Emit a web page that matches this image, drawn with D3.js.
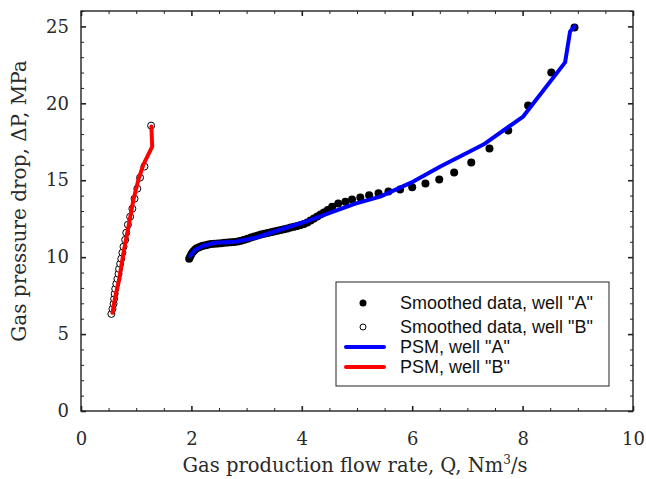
<!DOCTYPE html>
<html>
<head>
<meta charset="utf-8">
<script src="https://cdn.jsdelivr.net/npm/d3@7"></script>
<style>
  body { margin: 0; background: #fff; }
  .tick text { font-family: "DejaVu Serif", serif; font-size: 18px; fill: #2a2a2a; }
</style>
</head>
<body>
<div id="chart"></div>
<script>
// smoothed data, well "A" (filled dots)
const qA = [1.96, 1.98, 2.00, 2.03, 2.06, 2.09, 2.13, 2.17, 2.21, 2.26, 2.31, 2.36, 2.42, 2.48, 2.54, 2.60, 2.66, 2.72, 2.78, 2.84, 2.90, 2.96, 3.02, 3.08, 3.14, 3.20, 3.26, 3.32, 3.38, 3.44, 3.50, 3.56, 3.62, 3.68, 3.74, 3.80, 3.86, 3.92, 3.98, 4.04, 4.10, 4.16, 4.22, 4.28, 4.34, 4.40, 4.47, 4.55, 4.66, 4.79, 4.91, 5.06, 5.22, 5.39, 5.57, 5.78, 6.00, 6.24, 6.49, 6.76, 7.07, 7.40, 7.74, 8.10, 8.52, 8.94];
const dpA = [9.90, 10.05, 10.20, 10.35, 10.47, 10.56, 10.63, 10.69, 10.74, 10.78, 10.82, 10.85, 10.87, 10.89, 10.91, 10.93, 10.95, 10.97, 10.99, 11.02, 11.07, 11.13, 11.20, 11.28, 11.35, 11.41, 11.47, 11.52, 11.57, 11.62, 11.67, 11.72, 11.77, 11.82, 11.87, 11.92, 11.97, 12.03, 12.09, 12.16, 12.26, 12.38, 12.51, 12.64, 12.77, 12.90, 13.07, 13.28, 13.48, 13.60, 13.74, 13.87, 14.03, 14.16, 14.26, 14.39, 14.55, 14.78, 15.04, 15.50, 16.15, 17.06, 18.23, 19.86, 22.00, 24.93];

// smoothed data, well "B" (open circles)
const qB = [0.55, 0.57, 0.59, 0.60, 0.61, 0.62, 0.64, 0.66, 0.68, 0.69, 0.71, 0.73, 0.75, 0.77, 0.80, 0.82, 0.85, 0.89, 0.93, 0.97, 1.02, 1.07, 1.15, 1.27];
const dpB = [6.31, 6.64, 6.97, 7.29, 7.62, 7.94, 8.27, 8.59, 8.92, 9.24, 9.57, 9.90, 10.29, 10.68, 11.13, 11.59, 12.11, 12.63, 13.15, 13.80, 14.45, 15.17, 15.89, 18.55];

// PSM model, well "A"
const qPsmA = [1.98, 2.07, 2.22, 2.43, 2.80, 3.16, 3.61, 4.06, 4.52, 4.97, 5.42, 5.78, 6.02, 6.51, 7.29, 8.01, 8.77, 8.86, 8.94];
const dpPsmA = [10.09, 10.48, 10.74, 10.94, 11.00, 11.26, 11.78, 12.30, 12.89, 13.48, 13.93, 14.52, 14.91, 15.89, 17.32, 19.14, 22.66, 24.67, 25.00];

// PSM model, well "B"
const qPsmB = [0.57, 0.62, 0.69, 0.77, 0.86, 0.95, 1.04, 1.13, 1.29, 1.275];
const dpPsmB = [6.38, 7.42, 8.53, 10.29, 11.98, 13.74, 15.04, 16.02, 17.19, 18.49];

const xMajor = [0, 2, 4, 6, 8, 10];
const yMajor = [0, 5, 10, 15, 20, 25];

const legendItems = [
  {label: 'Smoothed data, well "A"', kind: "dot"},
  {label: 'Smoothed data, well "B"', kind: "circle"},
  {label: 'PSM, well "A"', kind: "line", color: "#0000ff"},
  {label: 'PSM, well "B"', kind: "line", color: "#ff0000"}
];

const margin = {top: 11, right: 13, bottom: 68, left: 81},
    width = 646 - margin.left - margin.right,
    height = 479 - margin.top - margin.bottom;

const svg = d3.select("#chart")
    .append("svg")
    .attr("width", width + margin.left + margin.right)
    .attr("height", height + margin.top + margin.bottom)
    .append("g")
    .attr("transform", `translate(${margin.left}, ${margin.top})`);

const x = d3.scaleLinear().domain([0, 10]).range([0, width]);
const y = d3.scaleLinear().domain([0, 26]).range([height, 0]);

const xMinor = d3.range(0, 10.01, 0.5).filter(v => v % 2 !== 0);
const yMinor = d3.range(0, 26.01, 1).filter(v => v % 5 !== 0);

// minor ticks (all four sides, inward)
function minorAxis(axis, transform) {
    const g = svg.append("g").attr("transform", transform).call(axis);
    g.select(".domain").remove();
    g.selectAll("line").attr("stroke", "#222").attr("stroke-width", 1);
    g.selectAll("text").remove();
}
minorAxis(d3.axisBottom(x).tickValues(xMinor).tickSizeInner(-3).tickSizeOuter(0), `translate(0, ${height})`);
minorAxis(d3.axisTop(x).tickValues(xMinor).tickSizeInner(-3).tickSizeOuter(0), "translate(0, 0)");
minorAxis(d3.axisLeft(y).tickValues(yMinor).tickSizeInner(-3).tickSizeOuter(0), "translate(0, 0)");
minorAxis(d3.axisRight(y).tickValues(yMinor).tickSizeInner(-3).tickSizeOuter(0), `translate(${width}, 0)`);

// major ticks
const xAxis = svg.append("g")
    .attr("transform", `translate(0, ${height})`)
    .call(d3.axisBottom(x).tickValues(xMajor).tickSizeInner(-5).tickSizeOuter(0).tickPadding(21));
const yAxis = svg.append("g")
    .call(d3.axisLeft(y).tickValues(yMajor).tickSizeInner(-5).tickSizeOuter(0).tickPadding(12));
const xTop = svg.append("g")
    .call(d3.axisTop(x).tickValues(xMajor).tickSizeInner(-5).tickSizeOuter(0));
const yRight = svg.append("g")
    .attr("transform", `translate(${width}, 0)`)
    .call(d3.axisRight(y).tickValues(yMajor).tickSizeInner(-5).tickSizeOuter(0));
xTop.selectAll("text").remove();
yRight.selectAll("text").remove();
[xAxis, yAxis, xTop, yRight].forEach(g => {
    g.select(".domain").remove();
    g.selectAll("line").attr("stroke", "#222").attr("stroke-width", 1.6);
});

// frame
svg.append("rect")
    .attr("width", width)
    .attr("height", height)
    .attr("fill", "none")
    .attr("stroke", "#222")
    .attr("stroke-width", 1.4);

// axis titles
const xt = svg.append("text")
    .attr("x", width / 2 - 2)
    .attr("y", height + 61)
    .attr("text-anchor", "middle")
    .style("font-family", "DejaVu Serif, serif")
    .style("font-size", "19.5px")
    .attr("fill", "#2a2a2a");
xt.append("tspan").text("Gas production flow rate, Q, Nm");
xt.append("tspan").attr("dy", -8).style("font-size", "12px").text("3");
xt.append("tspan").attr("dy", 8).text("/s");

svg.append("text")
    .attr("transform", `translate(${-55}, ${height / 2 - 10}) rotate(-90)`)
    .attr("text-anchor", "middle")
    .style("font-family", "DejaVu Serif, serif")
    .style("font-size", "20px")
    .attr("fill", "#2a2a2a")
    .text("Gas pressure drop, \u0394P, MPa");

const line = d3.line()
    .x(d => x(d[0]))
    .y(d => y(d[1]));

// data points
svg.append("g")
    .selectAll("circle")
    .data(d3.zip(qA, dpA))
    .enter()
    .append("circle")
    .attr("cx", d => x(d[0]))
    .attr("cy", d => y(d[1]))
    .attr("r", 4)
    .attr("fill", "#000");

svg.append("g")
    .selectAll("circle")
    .data(d3.zip(qB, dpB))
    .enter()
    .append("circle")
    .attr("cx", d => x(d[0]))
    .attr("cy", d => y(d[1]))
    .attr("r", 3.5)
    .attr("fill", "#fff")
    .attr("stroke", "#000")
    .attr("stroke-width", 1);

// model lines
svg.append("path")
    .datum(d3.zip(qPsmA, dpPsmA))
    .attr("fill", "none")
    .attr("stroke", "#0000ff")
    .attr("stroke-width", 4)
    .attr("stroke-linejoin", "round")
    .attr("stroke-linecap", "round")
    .attr("d", line);

svg.append("path")
    .datum(d3.zip(qPsmB, dpPsmB))
    .attr("fill", "none")
    .attr("stroke", "#ff0000")
    .attr("stroke-width", 4)
    .attr("stroke-linejoin", "round")
    .attr("stroke-linecap", "round")
    .attr("d", line);

// legend
const legend = svg.append("g")
    .attr("transform", `translate(${336 - margin.left}, ${282 - margin.top})`);
legend.append("rect")
    .attr("width", 273)
    .attr("height", 104)
    .attr("fill", "#fff")
    .attr("stroke", "#222")
    .attr("stroke-width", 1);
const rowY = [21, 45, 65, 85];
legendItems.forEach((it, i) => {
    const row = legend.append("g").attr("transform", `translate(0, ${rowY[i]})`);
    if (it.kind === "dot") {
        row.append("circle").attr("cx", 27).attr("cy", 0).attr("r", 3.5).attr("fill", "#000");
    } else if (it.kind === "circle") {
        row.append("circle").attr("cx", 27).attr("cy", 0).attr("r", 3).attr("fill", "#fff")
            .attr("stroke", "#000").attr("stroke-width", 1);
    } else {
        row.append("line").attr("x1", 10).attr("x2", 48).attr("y1", 0).attr("y2", 0)
            .attr("stroke", it.color).attr("stroke-width", 4).attr("stroke-linecap", "round");
    }
    row.append("text")
        .attr("x", 64)
        .attr("y", 0)
        .attr("dy", "0.35em")
        .style("font-family", "Liberation Sans, Arial, sans-serif")
        .style("font-size", "18px")
        .attr("fill", "#111")
        .text(it.label);
});
</script>
</body>
</html>
